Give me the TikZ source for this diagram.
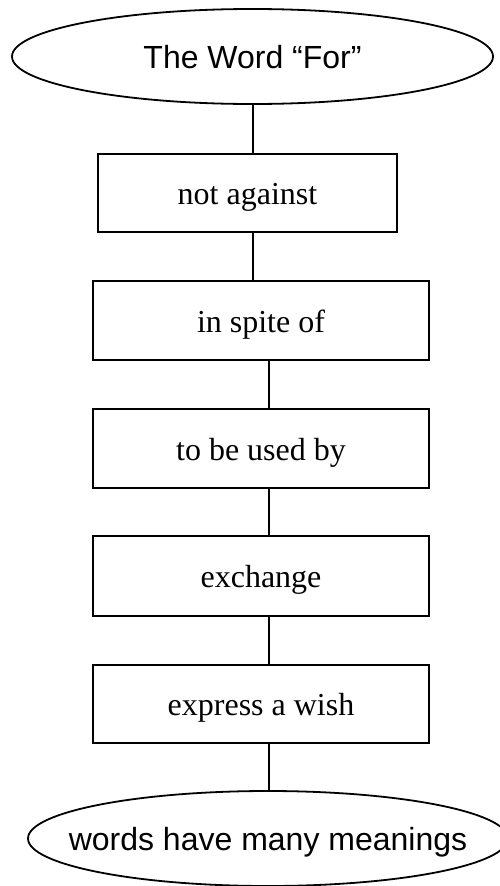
\documentclass[tikz,border=0pt]{standalone}
\usepackage{fontspec}
\setmainfont{Liberation Serif}
\newfontfamily\arialf{Liberation Sans}
\usetikzlibrary{shapes.geometric}
\tikzset{
  oval/.style={ellipse, draw, line width=1.8pt, inner sep=0pt, text height=24pt, text depth=0pt, font=\arialf\fontsize{32}{38}\selectfont},
  stepbox/.style={rectangle, draw, line width=1.8pt, inner sep=0pt, text height=23pt, text depth=0pt, font=\fontsize{32}{38}\selectfont},
  link/.style={line width=1.8pt}
}
\begin{document}
\begin{tikzpicture}[x=1pt,y=-1pt]
\useasboundingbox (0,0) rectangle (500,886);
\node[oval, minimum width=481pt, minimum height=95pt] (top) at (252.5,56.5) {\makebox[0pt]{The Word “For”}};
\node[stepbox, minimum width=299pt, minimum height=78pt] (b1) at (247.5,193) {not against};
\node[stepbox, minimum width=336pt, minimum height=79pt] (b2) at (261,320.5) {in spite of};
\node[stepbox, minimum width=336pt, minimum height=79pt] (b3) at (261,448.5) {to be used by};
\node[stepbox, minimum width=336pt, minimum height=80pt] (b4) at (261,576) {exchange};
\node[stepbox, minimum width=336pt, minimum height=78pt] (b5) at (261,704) {express a wish};
\node[oval, minimum width=480pt, minimum height=95pt] (bot) at (268,838.5) {\makebox[0pt]{words have many meanings}};
\coordinate (ca) at (253,0);
\coordinate (cb) at (269,0);
\draw[link] (top.south -| ca) -- (b1.north -| ca);
\draw[link] (b1.south -| ca) -- (b2.north -| ca);
\draw[link] (b2.south -| cb) -- (b3.north -| cb);
\draw[link] (b3.south -| cb) -- (b4.north -| cb);
\draw[link] (b4.south -| cb) -- (b5.north -| cb);
\draw[link] (b5.south -| cb) -- (bot.north -| cb);
\end{tikzpicture}
\end{document}
